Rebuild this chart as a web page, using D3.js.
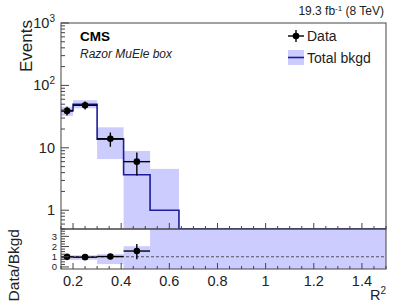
<!DOCTYPE html>
<html>
<head>
<meta charset="utf-8">
<script src="https://cdn.jsdelivr.net/npm/d3@7"></script>
<style>
  body { margin: 0; background: #fff; }
  svg { font-family: "Liberation Sans", Arial, sans-serif; }
</style>
</head>
<body>
<div id="maincontent"></div>
<script>
// bins in R^2
var binEdges = [0.15, 0.2, 0.3, 0.41, 0.52, 0.64, 1.5];

// data (first four bins)
var dataCounts = [39, 48, 14, 6];
var dataErrLo = [6.2, 6.9, 3.6, 2.4];
var dataErrHi = [6.3, 7.0, 3.6, 2.4];

// total background and its uncertainty band
var bkgd = [39.5, 50, 13.8, 3.7, 1.0, 0.01];
var bandLo = [32.5, 43, 6.6, 0.01, 0.01, 0.01];
var bandHi = [45.5, 58, 21.3, 8.9, 4.6, 0.52];

// ratio panel
var ratio = [0.99, 0.96, 1.02, 1.56];
var ratioErrLo = [0.15, 0.14, 0.27, 0.8];
var ratioErrHi = [0.15, 0.14, 0.27, 0.7];
var ratioBandLo = [0.7, 0.7, 0.28, -1, -1, -1];
var ratioBandHi = [1.15, 1.15, 1.25, 2.03, 5, 5];

var xTicks = [0.2, 0.4, 0.6, 0.8, 1, 1.2, 1.4];
var yTicks = [1, 10, 100, 1000];
var yTickLabels = [["1", ""], ["10", ""], ["10", "2"], ["10", "3"]];
var ratioTicks = [0, 1, 2, 3];

var width = 407, height = 306;
var L = 61, R = 386, T = 23, M = 229, B = 269;

var svg = d3.select("#maincontent").append("svg")
    .attr("width", width)
    .attr("height", height);

var x = d3.scaleLinear().domain([0.15, 1.5]).range([L, R]);
var y = d3.scaleLog().domain([0.5, 1000]).range([M, T]).clamp(true);
var yr = d3.scaleLinear().domain([-0.2, 3.72]).range([B, M]).clamp(true);

var bins = d3.range(binEdges.length - 1).map(function (i) {
    return {x0: binEdges[i], x1: binEdges[i + 1], i: i};
});

var bandColor = "#ccccff", lineColor = "#1c1c9c";

// ---- main pad ----
svg.append("g").selectAll("rect")
    .data(bins)
    .enter().append("rect")
    .attr("x", function (d) { return x(d.x0); })
    .attr("width", function (d) { return x(d.x1) - x(d.x0); })
    .attr("y", function (d) { return y(bandHi[d.i]); })
    .attr("height", function (d) { return y(bandLo[d.i]) - y(bandHi[d.i]); })
    .attr("fill", bandColor);

var step = [];
bins.forEach(function (d) {
    step.push([d.x0, bkgd[d.i]]);
    step.push([d.x1, bkgd[d.i]]);
});
svg.append("path")
    .datum(step)
    .attr("fill", "none")
    .attr("stroke", lineColor)
    .attr("stroke-width", 1.6)
    .attr("d", d3.line().x(function (d) { return x(d[0]); }).y(function (d) { return y(d[1]); }));

// data points
var pts = svg.append("g").selectAll("g")
    .data(bins.slice(0, dataCounts.length))
    .enter().append("g");
pts.append("line")
    .attr("x1", function (d) { return x(d.x0); })
    .attr("x2", function (d) { return x(d.x1); })
    .attr("y1", function (d) { return y(dataCounts[d.i]); })
    .attr("y2", function (d) { return y(dataCounts[d.i]); })
    .attr("stroke", "#000").attr("stroke-width", 1.4);
pts.append("line")
    .attr("x1", function (d) { return x((d.x0 + d.x1) / 2); })
    .attr("x2", function (d) { return x((d.x0 + d.x1) / 2); })
    .attr("y1", function (d) { return y(dataCounts[d.i] - dataErrLo[d.i]); })
    .attr("y2", function (d) { return y(dataCounts[d.i] + dataErrHi[d.i]); })
    .attr("stroke", "#000").attr("stroke-width", 1.4);
pts.append("circle")
    .attr("cx", function (d) { return x((d.x0 + d.x1) / 2); })
    .attr("cy", function (d) { return y(dataCounts[d.i]); })
    .attr("r", 3.3)
    .attr("fill", "#000");

// ---- ratio pad ----
svg.append("g").selectAll("rect")
    .data(bins)
    .enter().append("rect")
    .attr("x", function (d) { return x(d.x0); })
    .attr("width", function (d) { return x(d.x1) - x(d.x0); })
    .attr("y", function (d) { return yr(ratioBandHi[d.i]); })
    .attr("height", function (d) { return yr(ratioBandLo[d.i]) - yr(ratioBandHi[d.i]); })
    .attr("fill", bandColor);

svg.append("line")
    .attr("x1", L).attr("x2", R)
    .attr("y1", yr(1)).attr("y2", yr(1))
    .attr("stroke", "#333").attr("stroke-width", 0.8)
    .attr("stroke-dasharray", "3,2");

var rpts = svg.append("g").selectAll("g")
    .data(bins.slice(0, ratio.length))
    .enter().append("g");
rpts.append("line")
    .attr("x1", function (d) { return x(d.x0); })
    .attr("x2", function (d) { return x(d.x1); })
    .attr("y1", function (d) { return yr(ratio[d.i]); })
    .attr("y2", function (d) { return yr(ratio[d.i]); })
    .attr("stroke", "#000").attr("stroke-width", 1.4);
rpts.append("line")
    .attr("x1", function (d) { return x((d.x0 + d.x1) / 2); })
    .attr("x2", function (d) { return x((d.x0 + d.x1) / 2); })
    .attr("y1", function (d) { return yr(ratio[d.i] - ratioErrLo[d.i]); })
    .attr("y2", function (d) { return yr(ratio[d.i] + ratioErrHi[d.i]); })
    .attr("stroke", "#000").attr("stroke-width", 1.4);
rpts.append("circle")
    .attr("cx", function (d) { return x((d.x0 + d.x1) / 2); })
    .attr("cy", function (d) { return yr(ratio[d.i]); })
    .attr("r", 3.3)
    .attr("fill", "#000");

// ---- frames and ticks ----
var axisColor = "#444";
svg.append("rect").attr("x", L).attr("y", T).attr("width", R - L).attr("height", M - T)
    .attr("fill", "none").attr("stroke", axisColor).attr("stroke-width", 1);
svg.append("rect").attr("x", L).attr("y", M).attr("width", R - L).attr("height", B - M)
    .attr("fill", "none").attr("stroke", axisColor).attr("stroke-width", 1);

// x ticks on both pads, pointing up
var xMinor = d3.range(0.15, 1.5001, 0.05).map(function (v) { return Math.round(v * 100) / 100; });
[M, B].forEach(function (base) {
    svg.append("g").selectAll("line")
        .data(xMinor)
        .enter().append("line")
        .attr("x1", function (d) { return x(d); })
        .attr("x2", function (d) { return x(d); })
        .attr("y1", base)
        .attr("y2", function (d) { return base - (xTicks.some(function (t) { return Math.abs(t - d) < 1e-6; }) ? 6 : 3); })
        .attr("stroke", axisColor).attr("stroke-width", 1);
});

svg.append("g").selectAll("text")
    .data(xTicks)
    .enter().append("text")
    .attr("x", function (d) { return x(d); })
    .attr("y", 286)
    .attr("text-anchor", "middle")
    .attr("font-size", 14.5)
    .attr("fill", "#222")
    .text(function (d) { return d; });

// log y ticks
var yMinor = [];
[0.1, 1, 10, 100].forEach(function (dec) {
    for (var k = 1; k <= 9; k++) yMinor.push(dec * k);
});
yMinor.push(1000);
yMinor = yMinor.filter(function (v) { return v >= 0.5 && v <= 1000; });
svg.append("g").selectAll("line")
    .data(yMinor)
    .enter().append("line")
    .attr("x1", L)
    .attr("x2", function (d) { return L + (yTicks.indexOf(d) >= 0 ? 8 : 4); })
    .attr("y1", function (d) { return y(d); })
    .attr("y2", function (d) { return y(d); })
    .attr("stroke", axisColor).attr("stroke-width", 1);

var yl = svg.append("g").selectAll("text")
    .data(yTicks)
    .enter().append("text")
    .attr("x", 55)
    .attr("y", function (d) { return y(d) + 5; })
    .attr("text-anchor", "end")
    .attr("font-size", 14.5)
    .attr("fill", "#222");
yl.append("tspan").text(function (d, i) { return yTickLabels[i][0]; });
yl.append("tspan")
    .attr("dy", -6)
    .attr("font-size", 10)
    .text(function (d, i) { return yTickLabels[i][1]; });

// ratio y ticks
var rMinor = d3.range(0, 3.51, 0.25);
svg.append("g").selectAll("line")
    .data(rMinor)
    .enter().append("line")
    .attr("x1", L)
    .attr("x2", function (d) { return L + (d % 1 === 0 ? 8 : 4); })
    .attr("y1", function (d) { return yr(d); })
    .attr("y2", function (d) { return yr(d); })
    .attr("stroke", axisColor).attr("stroke-width", 1);
svg.append("g").selectAll("text")
    .data(ratioTicks)
    .enter().append("text")
    .attr("x", 57)
    .attr("y", function (d) { return yr(d) + 3.5; })
    .attr("text-anchor", "end")
    .attr("font-size", 9.5)
    .attr("fill", "#222")
    .text(function (d) { return d; });

// ---- titles ----
svg.append("text")
    .attr("transform", "translate(32,20)rotate(-90)")
    .attr("text-anchor", "end")
    .attr("font-size", 17)
    .attr("fill", "#222")
    .text("Events");

svg.append("text")
    .attr("transform", "translate(19,229)rotate(-90)")
    .attr("text-anchor", "end")
    .attr("font-size", 15.5)
    .attr("fill", "#222")
    .text("Data/Bkgd");

var r2 = svg.append("text")
    .attr("x", 386).attr("y", 300)
    .attr("text-anchor", "end")
    .attr("font-size", 14.5)
    .attr("fill", "#222");
r2.append("tspan").text("R");
r2.append("tspan").attr("dy", -6).attr("font-size", 10).text("2");

var lumi = svg.append("text")
    .attr("x", 384).attr("y", 15)
    .attr("text-anchor", "end")
    .attr("font-size", 12)
    .attr("fill", "#222");
lumi.append("tspan").text("19.3 fb");
lumi.append("tspan").attr("dy", -4).attr("font-size", 8).text("-1");
lumi.append("tspan").attr("dy", 4).text(" (8 TeV)");

svg.append("text")
    .attr("x", 80).attr("y", 41)
    .attr("font-size", 13.5)
    .attr("font-weight", "bold")
    .text("CMS");
svg.append("text")
    .attr("x", 80).attr("y", 58)
    .attr("font-size", 12)
    .attr("font-style", "italic")
    .attr("fill", "#222")
    .text("Razor MuEle box");

// ---- legend ----
var lg = svg.append("g");
lg.append("line").attr("x1", 288).attr("x2", 304).attr("y1", 36).attr("y2", 36)
    .attr("stroke", "#000").attr("stroke-width", 1.4);
lg.append("line").attr("x1", 296).attr("x2", 296).attr("y1", 30).attr("y2", 42)
    .attr("stroke", "#000").attr("stroke-width", 1.4);
lg.append("circle").attr("cx", 296).attr("cy", 36).attr("r", 3.3).attr("fill", "#000");
lg.append("text").attr("x", 307).attr("y", 41).attr("font-size", 14).attr("fill", "#222").text("Data");

lg.append("rect").attr("x", 288).attr("y", 50).attr("width", 16).attr("height", 15).attr("fill", bandColor);
lg.append("line").attr("x1", 288).attr("x2", 304).attr("y1", 57.5).attr("y2", 57.5)
    .attr("stroke", lineColor).attr("stroke-width", 1.6);
lg.append("text").attr("x", 307).attr("y", 63).attr("font-size", 14).attr("fill", "#222").text("Total bkgd");
</script>
</body>
</html>
